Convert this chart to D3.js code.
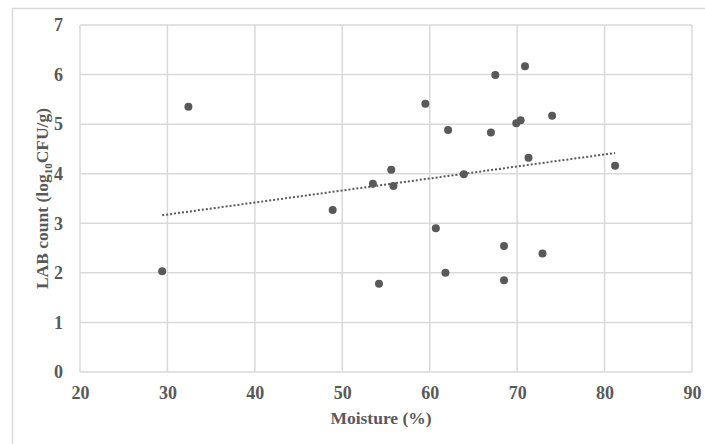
<!DOCTYPE html>
<html>
<head>
<meta charset="utf-8">
<script src="https://cdn.jsdelivr.net/npm/d3@7"></script>
<style>
  body { margin: 0; background: #fff; }
  text { font-family: "Liberation Serif", "Times New Roman", serif; font-weight: bold; fill: #595959; }
</style>
</head>
<body>
<div class="chart"></div>
<script>
// moisture (%) and LAB count (log10 CFU/g) per sample
const moisture = [29.4, 32.4, 48.9, 53.5, 54.2, 55.6, 55.85, 59.5, 60.7, 61.8, 62.1, 63.9,
                  67.0, 67.5, 68.5, 68.5, 69.9, 70.4, 70.9, 71.3, 72.9, 74.0, 81.2]
const labCount = [2.03, 5.35, 3.27, 3.80, 1.78, 4.08, 3.75, 5.41, 2.90, 2.00, 4.88, 3.99,
                  4.83, 5.99, 2.54, 1.85, 5.02, 5.08, 6.17, 4.32, 2.39, 5.17, 4.16]
const xTicks = [20, 30, 40, 50, 60, 70, 80, 90]
const yTicks = [0, 1, 2, 3, 4, 5, 6, 7]

const W = 705, H = 444
const margin = {top: 25, right: 13, bottom: 72, left: 80}
const width = W - margin.left - margin.right,
      height = H - margin.top - margin.bottom

const root = d3.select(".chart").append("svg")
  .attr("width", W).attr("height", H)

// outer chart area border (top and left only visible)
root.append("path")
  .attr("d", `M12.5,${H} V8.5 H${W}`)
  .attr("fill", "none").attr("stroke", "#d9d9d9").attr("stroke-width", 1.5)

const svg = root.append("g")
  .attr("transform", `translate(${margin.left},${margin.top})`)

const x = d3.scaleLinear().domain([20, 90]).range([0, width])
const y = d3.scaleLinear().domain([0, 7]).range([height, 0])

// gridlines
svg.append("g").selectAll("line").data(xTicks).join("line")
  .attr("x1", d => x(d)).attr("x2", d => x(d))
  .attr("y1", 0).attr("y2", height)
  .attr("stroke", "#d9d9d9").attr("stroke-width", 1.5)
svg.append("g").selectAll("line").data(yTicks).join("line")
  .attr("x1", 0).attr("x2", width)
  .attr("y1", d => y(d)).attr("y2", d => y(d))
  .attr("stroke", "#d9d9d9").attr("stroke-width", 1.5)

// axes
const xAxis = svg.append("g")
  .attr("transform", `translate(0,${height})`)
  .call(d3.axisBottom(x).tickValues(xTicks).tickFormat(d3.format("d")).tickSize(0).tickPadding(14))
const yAxis = svg.append("g")
  .call(d3.axisLeft(y).tickValues(yTicks).tickFormat(d3.format("d")).tickSize(0).tickPadding(17))
;[xAxis, yAxis].forEach(a => {
  a.select(".domain").remove()
  a.selectAll("text").attr("font-size", "18px")
    .attr("font-family", null)
})

// trendline (least squares fit)
const n = moisture.length
const mx = d3.mean(moisture), my = d3.mean(labCount)
let sxy = 0, sxx = 0
for (let i = 0; i < n; i++) {
  sxy += (moisture[i] - mx) * (labCount[i] - my)
  sxx += (moisture[i] - mx) ** 2
}
const slope = sxy / sxx, icpt = my - slope * mx
const ext = d3.extent(moisture)
svg.append("line")
  .attr("x1", x(ext[0])).attr("y1", y(icpt + slope * ext[0]))
  .attr("x2", x(ext[1])).attr("y2", y(icpt + slope * ext[1]))
  .attr("stroke", "#595959").attr("stroke-width", 2)
  .attr("stroke-dasharray", "2,2")

// points
svg.append("g").selectAll("circle").data(moisture).join("circle")
  .attr("cx", d => x(d))
  .attr("cy", (d, i) => y(labCount[i]))
  .attr("r", 4)
  .attr("fill", "#595959")

// axis titles
root.append("text")
  .attr("x", margin.left + width / 2 - 5).attr("y", 424)
  .attr("text-anchor", "middle").attr("font-size", "17.5px")
  .text("Moisture (%)")

const yt = root.append("text")
  .attr("transform", `translate(48,${margin.top + height / 2}) rotate(-90)`)
  .attr("text-anchor", "middle").attr("font-size", "17.5px")
yt.append("tspan").text("LAB count (log")
yt.append("tspan").attr("font-size", "11px").attr("dy", 4).text("10")
yt.append("tspan").attr("dy", -4).text("CFU/g)")
</script>
</body>
</html>
